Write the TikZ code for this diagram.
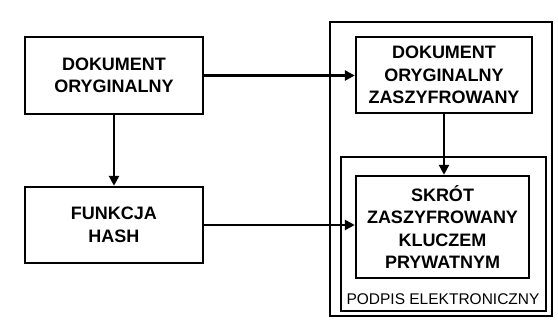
\documentclass[tikz,border=0pt]{standalone}
\usepackage{fontspec}
\setmainfont{Liberation Sans}
\usetikzlibrary{arrows.meta}
\begin{document}
\begin{tikzpicture}[x=1pt,y=-1pt,
  box/.style={draw, line width=2.4pt, rectangle, align=center, inner sep=0pt,
    font=\fontsize{18}{22.5}\selectfont\bfseries},
  frame/.style={draw, line width=2.2pt, rectangle, inner sep=0pt},
  conn/.style={line width=2.6pt, -{Triangle[length=10pt,width=10pt]}},
  lbl/.style={font=\fontsize{15.5}{17}\selectfont, inner sep=0pt}]
\useasboundingbox (0,0) rectangle (558,326);
\node[frame, minimum width=222pt, minimum height=294pt] (outer) at (441,169) {};
\node[frame, minimum width=205pt, minimum height=154pt] (podpis) at (443.5,234) {};
\node[box, minimum width=178pt, minimum height=77pt] (a) at (114,75.5) {DOKUMENT\\ORYGINALNY};
\node[box, minimum width=178pt, minimum height=76pt] (b) at (114,225) {FUNKCJA\\HASH};
\node[box, minimum width=176pt, minimum height=76pt] (c) at (444,75) {DOKUMENT\\ORYGINALNY\\ZASZYFROWANY};
\node[box, minimum width=173pt, minimum height=102pt] (d) at (442.5,227) {SKRÓT\\ZASZYFROWANY\\KLUCZEM\\PRYWATNYM};
\node[lbl] (plabel) at (443,299) {PODPIS ELEKTRONICZNY};
\draw[conn] (a.east) -- (a.east -| c.west);
\draw[conn] (a.south) -- (b.north);
\draw[conn] (c.south) -- (c.south |- d.north);
\draw[conn] (b.east) -- (b.east -| d.west);
\end{tikzpicture}
\end{document}
